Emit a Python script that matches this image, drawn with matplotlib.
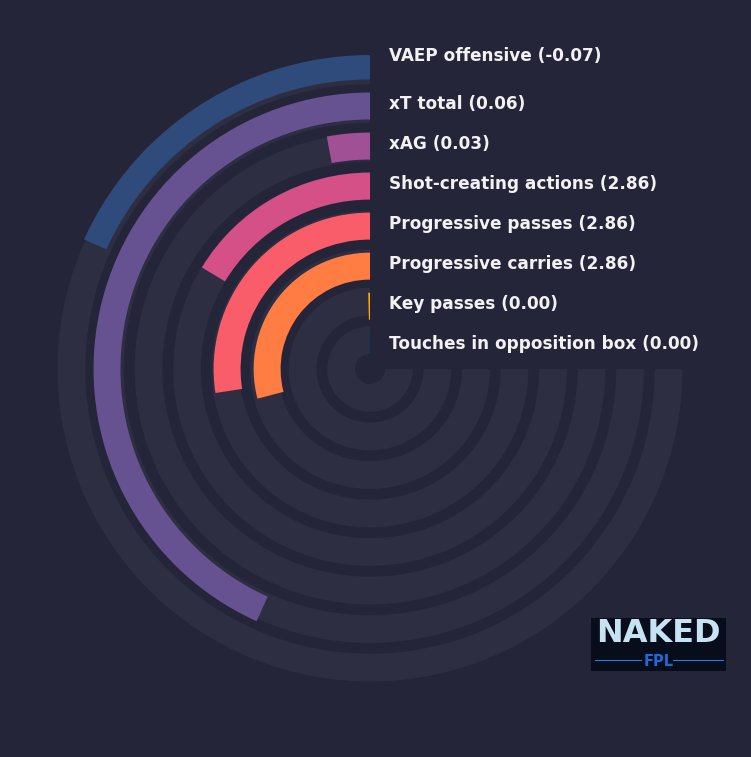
import numpy as np
import matplotlib.pyplot as plt
from matplotlib.transforms import offset_copy

# metrics, outer ring first
labels = ["VAEP offensive", "xT total", "xAG", "Shot-creating actions",
          "Progressive passes", "Progressive carries", "Key passes",
          "Touches in opposition box"]
values = [-0.07, 0.06, 0.03, 2.86, 2.86, 2.86, 0.00, 0.00]
# share of the 270 degree track filled by each bar (percent)
pct = [24.3, 57.7, 3.9, 21.8, 36.6, 38.8, 0.5, 0.5]
colors = ["#2f4b7c", "#665191", "#a05195", "#d45087",
          "#f95d6a", "#ff7c43", "#ffa600", "#003f5c"]

BG = "#252539"
TRACK = "#2e2e43"

fig = plt.figure(figsize=(7.51, 7.57), dpi=100, facecolor=BG)
ax = fig.add_axes([0.0746, 0.0977, 0.8362, 0.8296], projection="polar")
ax.set_facecolor(BG)
ax.set_theta_zero_location("N")
ax.set_theta_direction(1)
ax.set_ylim(-0.75, 7.4)

n = len(labels)
ring = np.arange(n)[::-1]          # outer ring = first label
full = 1.5 * np.pi
# bars sit on a slightly wider spacing than the grey tracks
bar_r = 2.96 + (ring - 3) * 1.039

ax.barh(ring, full, left=0, height=0.72, color=TRACK, zorder=1)
ax.barh(bar_r, np.array(pct) / 100 * full, left=0, height=0.70,
        color=colors, zorder=2)

# labels to the right of the 12 o'clock line
nudge = [10, 2, 2, 2, 2, 2, 2, 2]
for r, lab, v, dy in zip(bar_r, labels, values, nudge):
    tr = offset_copy(ax.transData, fig=fig, x=19, y=dy, units="dots")
    ax.text(0, r, f"{lab} ({v:.2f})", transform=tr, ha="left", va="center",
            color="#f2f2f2", fontsize=12.2, fontweight="bold", zorder=3)

ax.grid(False)
ax.set_xticks([])
ax.set_yticks([])
ax.spines["polar"].set_visible(False)

# logo
lg = fig.add_axes([591 / 751, 1 - 671 / 757, 135 / 751, 53 / 757])
lg.set_facecolor("#080d1c")
lg.set_xlim(0, 1)
lg.set_ylim(0, 1)
lg.set_xticks([])
lg.set_yticks([])
for s in lg.spines.values():
    s.set_visible(False)
lg.text(0.5, 0.70, "NAKED", ha="center", va="center", color="#c6e2f3",
        fontsize=23, fontweight="bold")
lg.text(0.5, 0.18, "FPL", ha="center", va="center", color="#1f6ad8",
        fontsize=10.5, fontweight="bold")
lg.plot([0.03, 0.37], [0.2, 0.2], color="#2a7de0", lw=0.8)
lg.plot([0.61, 0.98], [0.2, 0.2], color="#2a7de0", lw=0.8)

fig.savefig("out.png", dpi=100, facecolor=BG)
